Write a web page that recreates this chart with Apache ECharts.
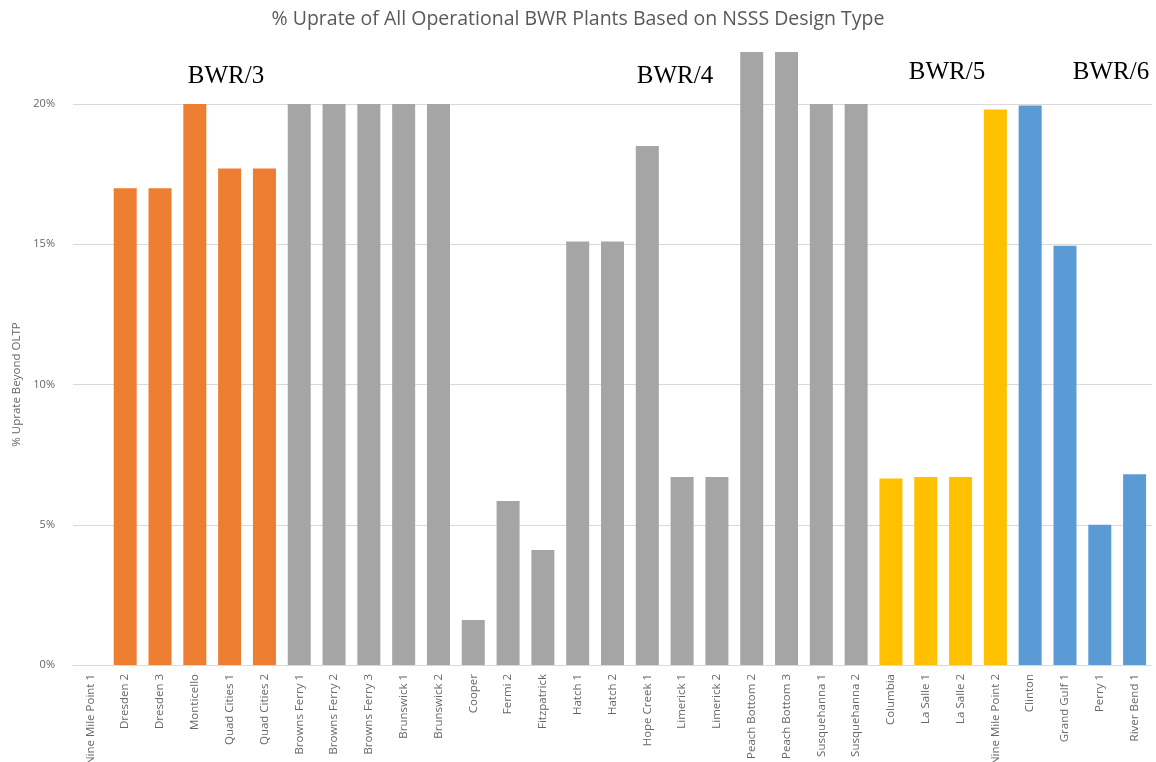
<!DOCTYPE html>
<html><head><meta charset="utf-8">
<script src="https://cdn.jsdelivr.net/npm/echarts@6/dist/echarts.min.js"></script>
<style>html,body{margin:0;padding:0;background:#fff}#c{width:1156px;height:762px}</style>
</head><body><div id="c"></div>
<script>
// ---- data ----
const plants = ['Nine Mile Point 1','Dresden 2','Dresden 3','Monticello','Quad Cities 1','Quad Cities 2',
  'Browns Ferry 1','Browns Ferry 2','Browns Ferry 3','Brunswick 1','Brunswick 2','Cooper','Fermi 2',
  'Fitzpatrick','Hatch 1','Hatch 2','Hope Creek 1','Limerick 1','Limerick 2','Peach Bottom 2',
  'Peach Bottom 3','Susquehanna 1','Susquehanna 2','Columbia','La Salle 1','La Salle 2',
  'Nine Mile Point 2','Clinton','Grand Gulf 1','Perry 1','River Bend 1'];
const uprate = [0, 17.0, 17.0, 20.0, 17.7, 17.7,
  20.0, 20.0, 20.0, 20.0, 20.0, 1.6, 5.85,
  4.1, 15.1, 15.1, 18.5, 6.7, 6.7, 21.85,
  21.85, 20.0, 20.0, 6.65, 6.7, 6.7,
  19.8, 19.95, 14.95, 5.0, 6.8];
const designType = ['BWR/3','BWR/3','BWR/3','BWR/3','BWR/3','BWR/3',
  'BWR/4','BWR/4','BWR/4','BWR/4','BWR/4','BWR/4','BWR/4',
  'BWR/4','BWR/4','BWR/4','BWR/4','BWR/4','BWR/4','BWR/4',
  'BWR/4','BWR/4','BWR/4','BWR/5','BWR/5','BWR/5',
  'BWR/5','BWR/6','BWR/6','BWR/6','BWR/6'];
const groupLabels = ['BWR/3','BWR/4','BWR/5','BWR/6'];
const yTicks = [0, 5, 10, 15, 20];

// ---- styles ----
const typeColor = {'BWR/3':'#ED7D31','BWR/4':'#A5A5A5','BWR/5':'#FFC000','BWR/6':'#5B9BD5'};
const labelPos = [[226,76],[675,76],[947,72],[1111,72]];

const chart = echarts.init(document.getElementById('c'));
chart.setOption({
  backgroundColor: '#ffffff',
  animation: false,
  title: {
    text: '% Uprate of All Operational BWR Plants Based on NSSS Design Type',
    left: 'center', top: 4,
    textStyle: {fontFamily: 'Open Sans', fontSize: 19.5, fontWeight: 'normal', color: '#595959'}
  },
  grid: {left: 73, right: 4, top: 104, bottom: 97, containLabel: false, outerBoundsMode: 'none'},
  xAxis: {
    type: 'category', data: plants,
    axisTick: {show: false},
    axisLine: {lineStyle: {color: '#d9d9d9'}},
    axisLabel: {rotate: 90, interval: 0, margin: 9, fontFamily: 'Open Sans', fontSize: 11.5, color: '#666666'}
  },
  yAxis: {
    type: 'value', min: yTicks[0], max: yTicks[yTicks.length-1], interval: 5,
    name: '% Uprate Beyond OLTP', nameLocation: 'middle', nameGap: 50, nameRotate: 90,
    nameTextStyle: {fontFamily: 'Open Sans', fontSize: 11.5, color: '#666666'},
    axisLine: {show: false}, axisTick: {show: false},
    axisLabel: {formatter: '{value}%', fontFamily: 'Open Sans', fontSize: 11, color: '#666666', margin: 18},
    splitLine: {lineStyle: {color: '#d9d9d9', width: 1}}
  },
  series: [{
    type: 'bar', data: uprate, barWidth: 23, clip: false,
    itemStyle: {color: p => typeColor[designType[p.dataIndex]]}
  }],
  graphic: groupLabels.map((g, i) => ({
    type: 'text', x: labelPos[i][0], y: labelPos[i][1],
    style: {text: g, fontFamily: 'Liberation Serif', fontSize: 25, fill: '#000', align: 'center', verticalAlign: 'middle'}
  }))
});
</script></body></html>
